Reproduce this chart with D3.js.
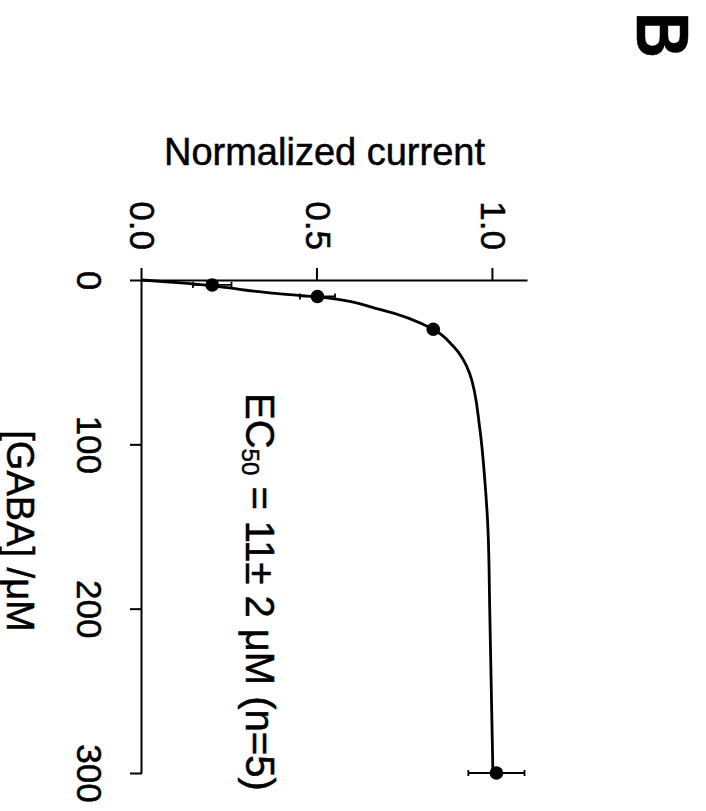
<!DOCTYPE html>
<html>
<head>
<meta charset="utf-8">
<script src="https://cdn.jsdelivr.net/npm/d3@7"></script>
<style>
  body { margin: 0; background: #fff; }
  text { font-family: "Liberation Sans", Arial, sans-serif; fill: #000; stroke: #000; stroke-width: 0.5px; }
</style>
</head>
<body>
<div id="chart"></div>
<script>
// measured points (GABA uM, normalized current, error)
const gabaConc = [3, 10, 30, 300]
const meanCurrent = [0.20, 0.50, 0.83, 1.01]
const errCurrent = [0.055, 0.05, 0.01, 0.08]

// fitted curve
const fitGaba = [0, 1.8, 3.6, 8, 10.3, 18, 30, 40, 57, 91, 122, 152, 201, 300]
const fitCurrent = [0, 0.11, 0.20, 0.37, 0.50, 0.68, 0.83, 0.886, 0.934, 0.963, 0.977, 0.986, 0.991, 1.0]

const xTicks = [0, 100, 200, 300]
const yTicks = [0, 0.5, 1.0]

const W = 706
const H = 811

const svg = d3.select('#chart').append('svg')
  .attr('width', W)
  .attr('height', H)

svg.append('rect').attr('width', W).attr('height', H).attr('fill', '#fff')

// whole figure is turned a quarter clockwise
const g = svg.append('g')
  .attr('transform', 'translate(' + W + ',0) rotate(90)')

const x = d3.scaleLinear().domain([0, 300]).range([280, 773])
const y = d3.scaleLinear().domain([0, 1.1]).range([564, 178])

const xAxis = d3.axisBottom(x)
  .tickValues(xTicks)
  .tickSize(12)
  .tickPadding(28)
  .tickSizeOuter(0)
const yAxis = d3.axisLeft(y)
  .tickValues(yTicks)
  .tickFormat(d3.format('.1f'))
  .tickSize(12)
  .tickPadding(18)
  .tickSizeOuter(0)

const gx = g.append('g')
  .attr('transform', 'translate(0,' + y(0) + ')')
  .call(xAxis)
const gy = g.append('g')
  .attr('transform', 'translate(' + x(0) + ',0)')
  .call(yAxis)

;[gx, gy].forEach(a => {
  a.attr('font-family', null).attr('font-size', null)
  a.selectAll('path, line').attr('stroke', '#000').attr('stroke-width', 2)
  a.selectAll('text').style('font-size', '35px')
})

// fit curve
const line = d3.line()
  .x((d, i) => x(fitGaba[i]))
  .y(d => y(d))
  .curve(d3.curveMonotoneX)

g.append('path')
  .datum(fitCurrent)
  .attr('fill', 'none')
  .attr('stroke', '#000')
  .attr('stroke-width', 2.8)
  .attr('d', line)

// error bars
const eb = g.append('g').attr('stroke', '#000').attr('stroke-width', 1.8)
gabaConc.forEach((c, i) => {
  const lo = y(meanCurrent[i] - errCurrent[i])
  const hi = y(meanCurrent[i] + errCurrent[i])
  eb.append('line').attr('x1', x(c)).attr('x2', x(c)).attr('y1', lo).attr('y2', hi)
  eb.append('line').attr('x1', x(c) - 3).attr('x2', x(c) + 3).attr('y1', lo).attr('y2', lo)
  eb.append('line').attr('x1', x(c) - 3).attr('x2', x(c) + 3).attr('y1', hi).attr('y2', hi)
})

g.selectAll('circle.pt')
  .data(gabaConc)
  .enter().append('circle')
  .attr('class', 'pt')
  .attr('cx', d => x(d))
  .attr('cy', (d, i) => y(meanCurrent[i]))
  .attr('r', 6.8)
  .attr('fill', '#000')

// labels
g.append('text')
  .attr('transform', 'translate(165,' + y(0.52) + ') rotate(-90)')
  .attr('text-anchor', 'middle')
  .style('font-size', '38px')
  .text('Normalized current')

g.append('text')
  .attr('x', 531)
  .attr('y', 699)
  .attr('text-anchor', 'middle')
  .style('font-size', '38px')
  .text('[GABA] /\u03bcM')

const ec = g.append('text')
  .attr('x', 393)
  .attr('y', 460)
  .style('font-size', '40px')
ec.append('tspan').text('EC')
ec.append('tspan').attr('dy', 4).style('font-size', '24px').text('50')
ec.append('tspan').attr('dy', -4).text(' = 11\u00b1 2 \u03bcM (n=5)')

g.append('text')
  .attr('x', 12)
  .attr('y', 69)
  .attr('textLength', 46)
  .attr('lengthAdjust', 'spacingAndGlyphs')
  .style('font-size', '74px')
  .style('font-weight', 'bold')
  .text('B')
</script>
</body>
</html>
